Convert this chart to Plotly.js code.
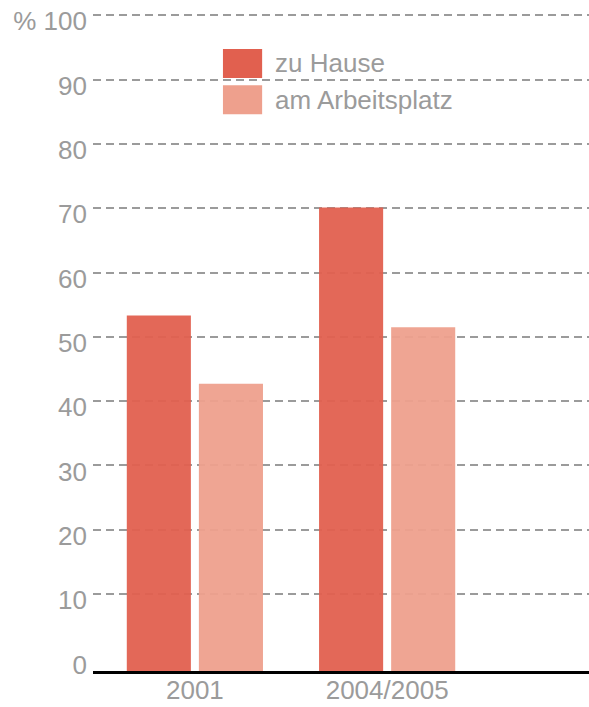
<!DOCTYPE html>
<html>
<head>
<meta charset="utf-8">
<script src="https://cdn.plot.ly/plotly-3.0.1.min.js"></script>
<style>html,body{margin:0;padding:0;background:#fff;}#chart{width:589px;height:707px;}</style>
</head>
<body>
<div id="chart"></div>
<script>
const categories = ['2001', '2004/2005'];
const seriesNames = ['zu Hause', 'am Arbeitsplatz'];
const zuHause = [53.3, 70.1];
const amArbeitsplatz = [42.7, 51.5];
const yTickVals = [0, 10, 20, 30, 40, 50, 60, 70, 80, 90, 100];
const yTickText = ['0', '10', '20', '30', '40', '50', '60', '70', '80', '90', '% 100'];
const colors = ['#e1604f', '#eea08d'];

const FONT = '"Liberation Sans", Arial, Helvetica, sans-serif';
const GRAY = '#9b9b9b';
const Y_MIN = -1.95;

const traces = [zuHause, amArbeitsplatz].map((vals, i) => ({
  type: 'bar',
  name: seriesNames[i],
  x: categories,
  y: vals.map(v => v - Y_MIN),
  base: Y_MIN,
  marker: {color: colors[i], opacity: 0.95, line: {width: 0}},
  hoverinfo: 'skip',
  showlegend: false
}));

const legendShapes = [
  {x0: 0.262, x1: 0.341, y0: 0.900, y1: 0.944},
  {x0: 0.262, x1: 0.341, y0: 0.845, y1: 0.889}
].map((s, i) => Object.assign({type: 'rect', xref: 'paper', yref: 'paper', fillcolor: colors[i], line: {width: 0}, layer: 'above'}, s));

const legendAnnots = seriesNames.map((n, i) => ({
  text: n, xref: 'paper', yref: 'paper', x: 0.363, y: [0.922, 0.867][i],
  xanchor: 'left', yanchor: 'middle', showarrow: false,
  font: {family: FONT, size: 26, color: GRAY}
}));

const layout = {
  width: 589, height: 707,
  margin: {l: 93, r: 0, t: 12, b: 36},
  paper_bgcolor: '#fff', plot_bgcolor: '#fff',
  barmode: 'group', bargap: 0.25, bargroupgap: 0.111,
  showlegend: false,
  xaxis: {
    type: 'category', range: [-0.53, 2.05],
    showline: true, linecolor: '#000', linewidth: 3,
    ticks: '', showgrid: false, zeroline: false,
    ticklabelstandoff: -6,
    tickfont: {family: FONT, size: 26, color: GRAY},
    fixedrange: true
  },
  yaxis: {
    range: [Y_MIN, 100.5],
    tickmode: 'array', tickvals: yTickVals, ticktext: yTickText,
    showgrid: false, zeroline: false, showline: false, ticks: '',
    ticklabelstandoff: 5, ticklabelshift: 6,
    tickfont: {family: FONT, size: 26, color: GRAY},
    minor: {tickmode: 'array', tickvals: yTickVals.slice(1), showgrid: true, gridcolor: '#9b9b9b', gridwidth: 2, griddash: '8px,5px', ticks: ''},
    fixedrange: true
  },
  shapes: legendShapes,
  annotations: legendAnnots
};

Plotly.newPlot('chart', traces, layout, {displayModeBar: false, staticPlot: true});
</script>
</body>
</html>
